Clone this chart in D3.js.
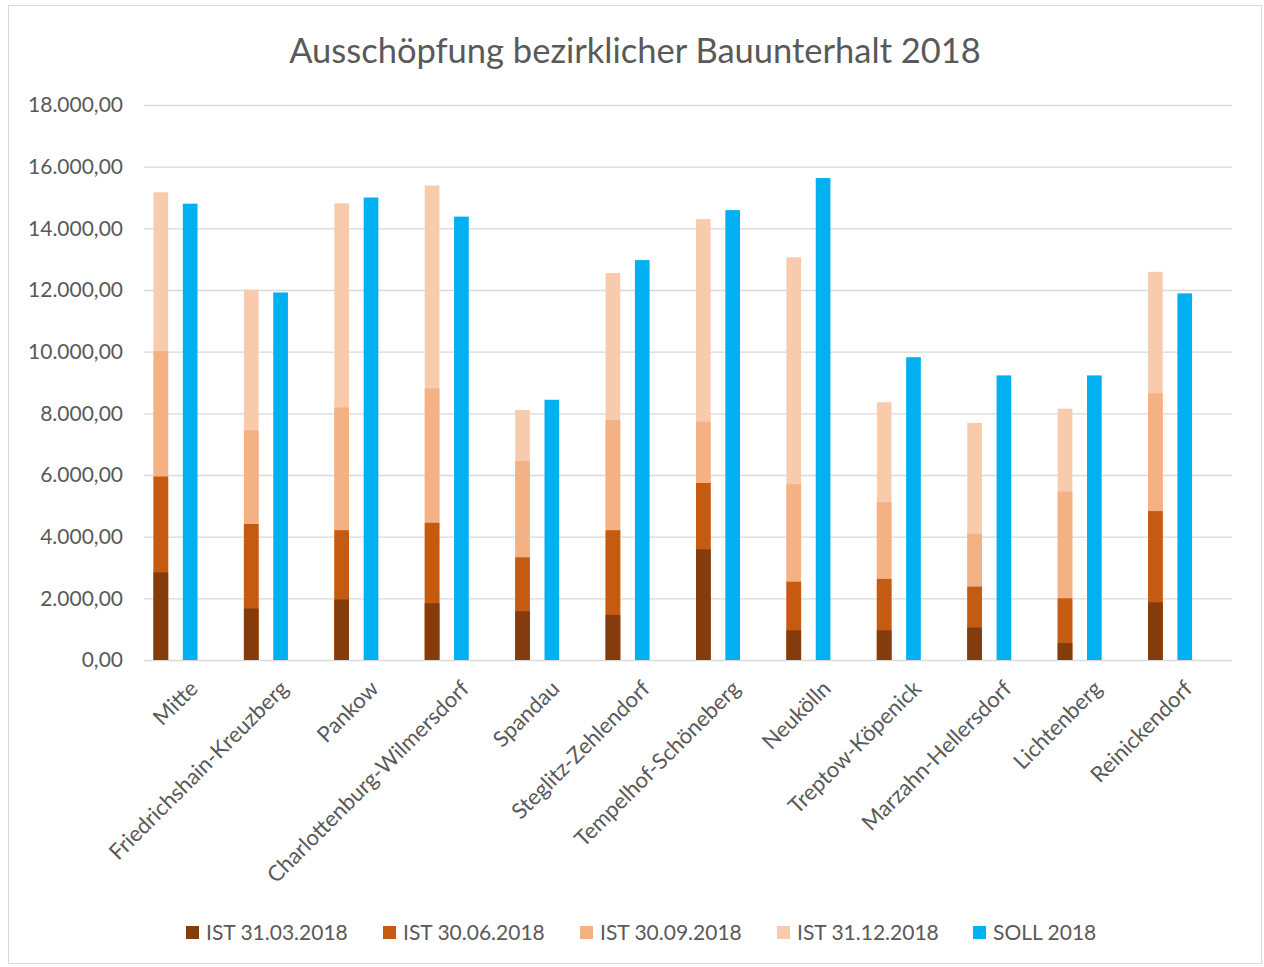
<!DOCTYPE html>
<html>
<head>
<meta charset="utf-8">
<script src="https://cdn.jsdelivr.net/npm/d3@7"></script>
<style>
  html, body { margin: 0; padding: 0; background: #fff; }
  text { font-family: Lato, "Open Sans", sans-serif; }
</style>
</head>
<body>
<svg id="chart"></svg>
<script>
let districts = ["Mitte", "Friedrichshain-Kreuzberg", "Pankow", "Charlottenburg-Wilmersdorf",
    "Spandau", "Steglitz-Zehlendorf", "Tempelhof-Schöneberg", "Neukölln",
    "Treptow-Köpenick", "Marzahn-Hellersdorf", "Lichtenberg", "Reinickendorf"];

// cumulative IST values per quarter
let ist0331 = [2840, 1670, 1960, 1840, 1580, 1460, 3590, 960, 960, 1050, 550, 1870];
let ist0630 = [5950, 4410, 4210, 4450, 3330, 4210, 5740, 2540, 2630, 2380, 2000, 4830];
let ist0930 = [10020, 7450, 8190, 8810, 6450, 7780, 7730, 5700, 5120, 4090, 5460, 8650];
let ist1231 = [15170, 12010, 14810, 15390, 8110, 12550, 14300, 13060, 8360, 7690, 8150, 12590];
let soll2018 = [14800, 11920, 15000, 14380, 8440, 12970, 14590, 15630, 9820, 9230, 9230, 11890];

let seriesNames = ["IST 31.03.2018", "IST 30.06.2018", "IST 30.09.2018", "IST 31.12.2018", "SOLL 2018"];
let yTicks = [0, 2000, 4000, 6000, 8000, 10000, 12000, 14000, 16000, 18000];

function createChart() {
    let w = 1264, h = 967;
    let margin = {left: 144, right: 35, top: 105, bottom: 307};

    let svg = d3.select("#chart")
        .attr("width", w)
        .attr("height", h);

    // chart frame
    svg.append("rect")
        .attr("x", 8.5).attr("y", 5.5)
        .attr("width", w - 11).attr("height", h - 9)
        .attr("fill", "#fff")
        .attr("stroke", "#d9d9d9");

    let color = d3.scaleOrdinal()
        .domain(seriesNames)
        .range(["#843c0c", "#c55a11", "#f4b183", "#f8cbad", "#00b0f0"]);

    let x = d3.scaleBand()
        .domain(districts)
        .range([margin.left, w - margin.right]);

    let inner = d3.scaleBand()
        .domain(["IST", "SOLL"])
        .range([9.5, 53.5])
        .paddingInner(0.5);

    let y = d3.scaleLinear()
        .domain([0, 18000])
        .range([h - margin.bottom, margin.top]);

    let de = d3.formatLocale({decimal: ",", thousands: ".", grouping: [3], currency: ["", " €"]});
    let fmt = de.format(",.2f");

    // gridlines + y labels
    let yAxis = svg.append("g")
        .attr("transform", `translate(${margin.left},0)`)
        .call(d3.axisLeft(y)
            .tickValues(yTicks)
            .tickSize(-(w - margin.left - margin.right + 3))
            .tickPadding(21)
            .tickFormat(fmt));
    yAxis.select(".domain").remove();
    yAxis.selectAll(".tick line")
        .attr("stroke", "#d9d9d9")
        .attr("stroke-width", 1.3);
    yAxis.selectAll(".tick text")
        .attr("fill", "#595959")
        .style("font-size", "21px");

    // IST bars, drawn back to front (cumulative values overlap)
    let istSeries = [
        {name: seriesNames[3], values: ist1231},
        {name: seriesNames[2], values: ist0930},
        {name: seriesNames[1], values: ist0630},
        {name: seriesNames[0], values: ist0331}
    ];

    istSeries.forEach(s => {
        svg.append("g")
            .selectAll("rect")
            .data(districts)
            .enter().append("rect")
            .attr("x", d => x(d) + inner("IST"))
            .attr("width", inner.bandwidth())
            .attr("y", (d, i) => y(s.values[i]))
            .attr("height", (d, i) => y(0) - y(s.values[i]))
            .attr("fill", color(s.name));
    });

    svg.append("g")
        .selectAll("rect")
        .data(districts)
        .enter().append("rect")
        .attr("x", d => x(d) + inner("SOLL"))
        .attr("width", inner.bandwidth())
        .attr("y", (d, i) => y(soll2018[i]))
        .attr("height", (d, i) => y(0) - y(soll2018[i]))
        .attr("fill", color(seriesNames[4]));

    // x labels
    svg.append("g")
        .selectAll("text")
        .data(districts)
        .enter().append("text")
        .attr("transform", d => `translate(${x(d) + x.bandwidth() / 2 + 10},${y(0) + 30}) rotate(-45)`)
        .attr("text-anchor", "end")
        .attr("fill", "#595959")
        .style("font-size", "22px")
        .text(d => d);

    // title
    svg.append("text")
        .attr("x", 635)
        .attr("y", 63)
        .attr("text-anchor", "middle")
        .attr("fill", "#595959")
        .style("font-size", "34.5px")
        .text("Ausschöpfung bezirklicher Bauunterhalt 2018");

    // legend
    let legendX = [186, 383, 580, 777, 973];
    let legend = svg.append("g")
        .selectAll("g")
        .data(seriesNames)
        .enter().append("g")
        .attr("transform", (d, i) => `translate(${legendX[i]},933)`);

    legend.append("rect")
        .attr("x", 0).attr("y", -7)
        .attr("width", 13).attr("height", 13)
        .attr("fill", d => color(d));

    legend.append("text")
        .attr("x", 20)
        .attr("dy", "0.35em")
        .attr("fill", "#595959")
        .style("font-size", "21px")
        .text(d => d);
}

window.onload = function() {
    createChart();
}
</script>
</body>
</html>
